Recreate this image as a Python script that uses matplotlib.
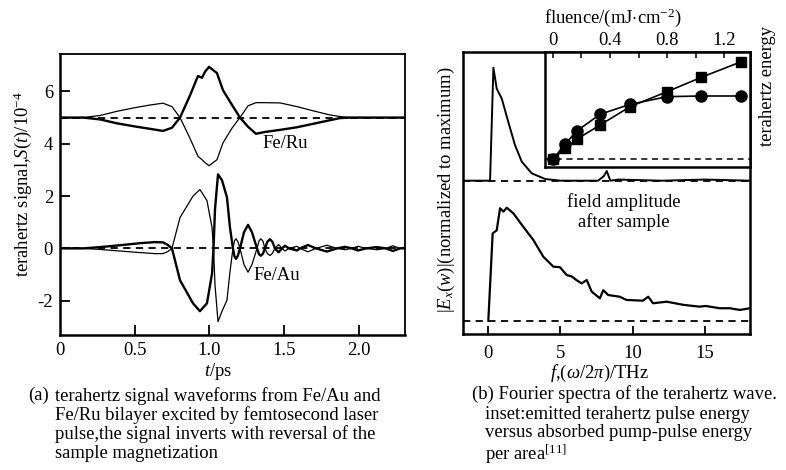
import matplotlib
matplotlib.use("Agg")
import matplotlib.pyplot as plt

plt.rcParams['font.family'] = ['Liberation Serif', 'DejaVu Serif']
plt.rcParams['mathtext.fontset'] = 'custom'
plt.rcParams['mathtext.rm'] = 'Liberation Serif'
plt.rcParams['mathtext.it'] = 'Liberation Serif:italic'
plt.rcParams['axes.unicode_minus'] = False

# ---- (a) time traces, t in ps ----
t_ru = [0.000, 0.154, 0.268, 0.381, 0.502, 0.602, 0.689, 0.749, 0.803, 0.870,
        0.923, 0.950, 0.970, 0.997, 1.050, 1.090, 1.151, 1.204, 1.258, 1.311,
        1.371, 1.472, 1.585, 1.692, 1.806, 1.873, 1.940, 2.308]
ru_bold = [5.0, 5.0, 4.93, 4.78, 4.66, 4.57, 4.49, 4.61, 5.0, 5.85,
           6.59, 6.52, 6.75, 6.94, 6.70, 6.05, 5.48, 5.0, 4.65, 4.38,
           4.45, 4.53, 4.63, 4.76, 4.90, 4.98, 5.0, 5.0]
ru_thin = [5.0, 5.0, 5.08, 5.24, 5.38, 5.48, 5.55, 5.42, 5.0, 4.20,
           3.52, 3.39, 3.28, 3.16, 3.39, 4.03, 4.60, 5.0, 5.45, 5.57,
           5.57, 5.56, 5.42, 5.26, 5.10, 5.04, 5.0, 5.0]

t_au = [0.000, 0.154, 0.268, 0.401, 0.535, 0.635, 0.689, 0.722, 0.749, 0.803,
        0.890, 0.936, 0.983, 1.017, 1.027, 1.037, 1.057, 1.084, 1.117, 1.137,
        1.157, 1.167, 1.177, 1.190, 1.204, 1.231, 1.258, 1.284, 1.318, 1.331,
        1.344, 1.358, 1.371, 1.388, 1.405, 1.421, 1.438, 1.462, 1.485, 1.505,
        1.532, 1.585, 1.605, 1.659, 1.712, 1.786, 1.853, 1.906, 1.953, 1.993,
        2.047, 2.120, 2.181, 2.227, 2.274, 2.308]
au_bold = [0.0, 0.0, 0.05, 0.12, 0.20, 0.24, 0.23, 0.13, 0.0, -1.22,
           -2.10, -2.40, -2.10, -0.97, 0.0, 1.50, 2.83, 2.60, 1.95, 0.80,
           0.0, -0.30, -0.40, -0.28, 0.0, 0.62, 0.90, 0.62, 0.0, -0.22,
           -0.28, -0.20, 0.0, 0.26, 0.35, 0.25, 0.0, -0.15, 0.0, 0.10,
           0.0, -0.08, 0.0, 0.13, 0.0, -0.12, 0.0, 0.06, 0.0, -0.08,
           0.0, 0.05, 0.0, -0.10, 0.0, 0.02]
au_thin = [0.0, 0.0, -0.04, -0.10, -0.16, -0.20, -0.20, -0.12, 0.0, 1.18,
           2.00, 2.25, 1.83, 0.80, 0.0, -1.40, -2.80, -2.40, -1.98, -0.90,
           0.0, 0.28, 0.37, 0.26, 0.0, -0.62, -0.91, -0.62, 0.0, 0.28,
           0.37, 0.27, 0.0, -0.20, -0.27, -0.19, 0.0, 0.15, 0.0, -0.10,
           0.0, 0.08, 0.0, -0.13, 0.0, 0.12, 0.0, -0.05, 0.0, 0.08,
           0.0, -0.05, 0.0, 0.10, 0.0, -0.02]

# ---- (b) spectra, f in THz, normalized ----
f_pulse = [-1.7, 0.14, 0.37, 0.60, 0.95, 1.40, 1.86, 2.33, 3.02, 3.94,
           5.0, 7.6, 8.0, 8.2, 8.45, 9.0, 12.0, 15.0, 18.1]
pulse_amp = [0.0, 0.0, 1.0, 0.814, 0.726, 0.52, 0.316, 0.168, 0.065, 0.015,
             0.0, 0.0, 0.04, 0.086, 0.0, 0.01, 0.0, 0.01, 0.0]
f_field = [0.02, 0.32, 0.60, 0.83, 1.06, 1.29, 1.75, 2.44, 3.13, 3.82,
           4.51, 4.97, 5.43, 5.80, 6.10, 6.47, 6.82, 7.16, 7.73, 7.96,
           8.30, 9.10, 9.57, 10.70, 11.07, 11.40, 12.34, 13.50, 14.60, 15.05,
           16.00, 16.70, 17.40, 18.10]
field_amp = [0.0, 0.773, 0.80, 0.995, 0.965, 1.0, 0.95, 0.83, 0.714, 0.566,
             0.478, 0.473, 0.404, 0.39, 0.36, 0.33, 0.36, 0.257, 0.198, 0.27,
             0.227, 0.212, 0.183, 0.177, 0.212, 0.154, 0.168, 0.14, 0.124, 0.13,
             0.11, 0.11, 0.095, 0.11]
pulse_offset = 1.239

# ---- inset: THz energy vs fluence ----
fluence = [0.0, 0.084, 0.166, 0.33, 0.54, 0.80, 1.04, 1.32]
energy_circ = [0.0, 0.154, 0.289, 0.461, 0.563, 0.642, 0.649, 0.649]
energy_sq = [0.0, 0.113, 0.205, 0.351, 0.539, 0.693, 0.840, 1.0]

W, H = 786, 470
fig = plt.figure(figsize=(W / 100, H / 100), dpi=100)

def box(l, t, r, b):
    return [l / W, 1 - b / H, (r - l) / W, (b - t) / H]

fs = 13.4

# ===== panel (a) =====
ax1 = fig.add_axes(box(60, 54, 405, 335))
ax1.plot(t_ru, ru_bold, color='black', lw=1.7)
ax1.plot(t_ru, ru_thin, color='black', lw=0.9)
ax1.plot(t_au, au_bold, color='black', lw=1.7)
ax1.plot(t_au, au_thin, color='black', lw=0.9)
ax1.axhline(5.0, color='black', lw=1.3, ls=(0, (4, 3)))
ax1.axhline(0.0, color='black', lw=1.3, ls=(0, (4, 3)))
ax1.set_xlim(0, 2.308)
ax1.set_ylim(-3.31, 7.43)
ax1.set_xticks([0, 0.5, 1.0, 1.5, 2.0])
ax1.set_xticklabels(['0', '0.5', '1.0', '1.5', '2.0'])
ax1.set_yticks([-2, 0, 2, 4, 6])
ax1.set_yticklabels(['-2', '0', '2', '4', '6'])
ax1.tick_params(direction='in', length=7, width=1.3, labelsize=fs, pad=5)
ax1.tick_params(axis='x', which='both', top=False)
ax1.xaxis.get_major_ticks()[0].tick1line.set_visible(False)
for s in ax1.spines.values():
    s.set_linewidth(1.8)
ax1.spines['right'].set_linewidth(1.3)
ax1.spines['top'].set_linewidth(1.3)
ax1.text(1.507, 4.0, 'Fe/Ru', fontsize=fs, ha='center', va='center')
ax1.text(1.452, -1.05, 'Fe/Au', fontsize=fs, ha='center', va='center')

fig.text(23 / W, 1 - 184 / H, r'terahertz signal,$S(t)$/10$^{-4}$', rotation=90,
         ha='center', va='center', fontsize=fs)
fig.text(218 / W, 1 - 372 / H, r'$t$/ps', ha='center', va='center', fontsize=fs)

# ===== panel (b) =====
ax2 = fig.add_axes(box(463, 52, 750, 334))
ax2.plot(f_field, field_amp, color='black', lw=1.6)
ax2.plot(f_pulse, [v + pulse_offset for v in pulse_amp], color='black', lw=1.4)
ax2.axhline(0.0, color='black', lw=1.3, ls=(0, (4, 3)))
ax2.axhline(pulse_offset, color='black', lw=1.3, ls=(0, (4, 3)))
ax2.set_xlim(-1.73, 18.1)
ax2.set_ylim(-0.118, 2.378)
ax2.set_xticks([0, 5, 10, 15])
ax2.set_yticks([])
ax2.tick_params(direction='in', length=6, width=1.3, labelsize=fs, pad=8)
for s in ax2.spines.values():
    s.set_linewidth(1.8)
ax2.text(9.4, 0.96, 'field amplitude\nafter sample', fontsize=fs, ha='center',
         va='center', linespacing=1.15)

fig.text(446 / W, 1 - 190 / H, r'$|E_x(w)|$(normalized to maximum)', rotation=90,
         ha='center', va='center', fontsize=fs)
fig.text(599 / W, 1 - 373 / H, r'$f$,($\omega$/2$\pi$)/THz', ha='center',
         va='center', fontsize=fs)

# ===== inset =====
ax3 = fig.add_axes(box(545, 52, 750, 166.7))
ax3.plot(fluence, energy_sq, color='black', lw=1.2, marker='s', ms=6.5)
ax3.plot(fluence, energy_circ, color='black', lw=1.2, marker='o', ms=8)
ax3.axhline(0.0, color='black', lw=1.1, ls=(0, (4, 3)))
ax3.set_xlim(-0.056, 1.382)
ax3.set_ylim(-0.076, 1.10)
ax3.xaxis.tick_top()
ax3.set_xticks([0, 0.4, 0.8, 1.2])
ax3.set_xticklabels(['0', '0.4', '0.8', '1.2'])
ax3.set_xticks([0.2, 0.6, 1.0], minor=True)
ax3.set_yticks([])
ax3.tick_params(axis='x', which='both', direction='in', length=4, width=1.1,
                labelsize=fs, pad=2)
for s in ax3.spines.values():
    s.set_linewidth(1.8)

fig.text(613 / W, 1 - 18 / H, r'fluence/(mJ$\cdot$cm$^{-2}$)', ha='center',
         va='center', fontsize=fs)
fig.text(768 / W, 1 - 86 / H, 'terahertz energy', rotation=90, ha='center',
         va='center', fontsize=fs)

# ===== captions =====
fig.text(28 / W, 1 - 387 / H, '(a)', ha='left', va='top', fontsize=fs)
fig.text(55 / W, 1 - 387 / H,
         'terahertz signal waveforms from Fe/Au and\n'
         'Fe/Ru bilayer excited by femtosecond laser\n'
         'pulse,the signal inverts with reversal of the\n'
         'sample magnetization',
         ha='left', va='top', fontsize=fs, linespacing=1.1)
fig.text(472 / W, 1 - 385 / H, '(b) Fourier spectra of the terahertz wave.',
         ha='left', va='top', fontsize=fs)
fig.text(485 / W, 1 - 406 / H,
         'inset:emitted terahertz pulse energy\n'
         'versus absorbed pump-pulse energy\n'
         'per area$^{[11]}$',
         ha='left', va='top', fontsize=fs, linespacing=1.1)

fig.savefig('out.png', dpi=100)
